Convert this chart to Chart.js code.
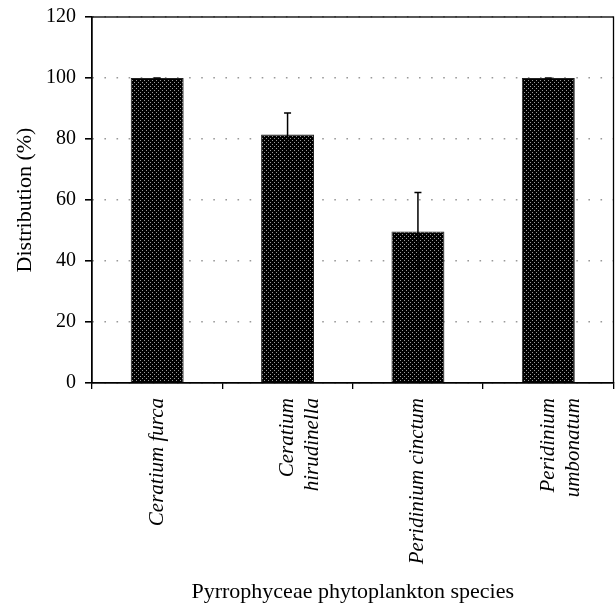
<!DOCTYPE html>
<html>
<head>
<meta charset="utf-8">
<script src="https://cdn.jsdelivr.net/npm/chart.js@4"></script>
<style>
html,body{margin:0;padding:0;background:#fff;}
#wrap{width:615px;height:605px;}
</style>
</head>
<body>
<div id="wrap"><canvas id="c" width="615" height="605"></canvas></div>
<script>
const categories = [["Ceratium furca"], ["Ceratium", "hirudinella"], ["Peridinium cinctum"], ["Peridinium", "umbonatum"]];
const distribution = [100, 81.5, 49.7, 100];
const errors = [0, 7, 12.8, 0];
const yTicks = [0, 20, 40, 60, 80, 100, 120];

function makePattern() {
  const p = document.createElement('canvas');
  p.width = 4; p.height = 4;
  const g = p.getContext('2d');
  g.fillStyle = '#000';
  g.fillRect(0, 0, 4, 4);
  g.fillStyle = '#9a9a9a';
  g.fillRect(0, 0, 1, 1);
  g.fillRect(2, 2, 1, 1);
  return document.getElementById('c').getContext('2d').createPattern(p, 'repeat');
}

const errorBars = {
  id: 'errorBars',
  afterDatasetsDraw(chart) {
    const ctx = chart.ctx;
    const meta = chart.getDatasetMeta(0);
    const y = chart.scales.y;
    ctx.save();
    ctx.strokeStyle = '#000';
    ctx.lineWidth = 1.5;
    meta.data.forEach((bar, i) => {
      const v = distribution[i], e = errors[i];
      const x = bar.x;
      const yt = y.getPixelForValue(v + e);
      const yb = y.getPixelForValue(v - e);
      ctx.beginPath();
      ctx.moveTo(x, yt); ctx.lineTo(x, yb);
      ctx.moveTo(x - 3.5, yt); ctx.lineTo(x + 3.5, yt);
      ctx.stroke();
    });
    ctx.restore();
  }
};

const frame = {
  id: 'frame',
  afterDraw(chart) {
    const a = chart.chartArea;
    const ctx = chart.ctx;
    ctx.save();
    ctx.strokeStyle = '#000';
    ctx.lineWidth = 1.3;
    ctx.strokeRect(a.left, a.top, a.right - a.left, a.bottom - a.top);
    ctx.restore();
  }
};

const serif = "'Liberation Serif', 'Times New Roman', serif";

new Chart(document.getElementById('c'), {
  type: 'bar',
  data: {
    labels: categories,
    datasets: [{
      data: distribution,
      backgroundColor: makePattern(),
      borderColor: '#222',
      borderWidth: 1,
      categoryPercentage: 1,
      barPercentage: 0.406
    }]
  },
  options: {
    responsive: false,
    animation: false,
    layout: { padding: { top: 17, right: 1.5, left: 0, bottom: 0 } },
    plugins: { legend: { display: false }, tooltip: { enabled: false } },
    scales: {
      x: {
        afterFit(s) { s.height = 222; s.paddingLeft = 0; s.paddingRight = 0; },
        grid: { display: true, drawOnChartArea: false, drawTicks: true, tickLength: 6, color: '#000', lineWidth: 1.3, offset: true },
        border: { color: '#000', width: 1.3 },
        ticks: {
          color: '#000', font: { family: serif, size: 21, style: 'italic' },
          minRotation: 90, maxRotation: 90, padding: 9, autoSkip: false
        },
        title: { display: true, text: 'Pyrrophyceae phytoplankton species', color: '#000', font: { family: serif, size: 22 }, padding: { top: 0, bottom: 0 } }
      },
      y: {
        min: 0, max: 120,
        afterFit(s) { s.width = 92; s.paddingTop = 0; s.paddingBottom = 0; },
        afterBuildTicks(s) { s.ticks = yTicks.map(v => ({ value: v })); },
        grid: { color: '#999', lineWidth: 1.6, tickColor: '#000', tickLength: 7, tickBorderDash: [] },
        border: { color: '#000', width: 1.3, dash: [1.6, 10.5] },
        ticks: { color: '#000', font: { family: serif, size: 20 }, padding: 9 },
        title: { display: true, text: 'Distribution (%)', color: '#000', font: { family: serif, size: 22 }, padding: { top: 12, bottom: 0 } }
      }
    }
  },
  plugins: [errorBars, frame]
});
</script>
</body>
</html>
